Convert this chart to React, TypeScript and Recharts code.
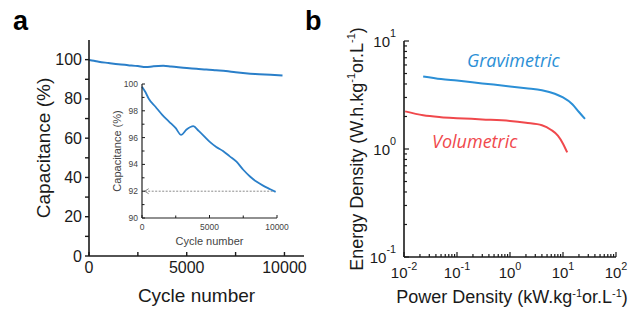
import React from 'react';
import { LineChart, Line, XAxis, YAxis, Label } from 'recharts';

// ---- panel a: cycling stability ----
const cycles = [0, 250, 500, 1000, 1500, 2000, 2500, 2900, 3300, 3800, 4200, 5000, 5500, 6000, 6500, 7000, 7500, 8000, 8500, 9000, 9500, 9900];
const capacitance = [99.8, 99.4, 98.9, 98.3, 97.7, 97.2, 96.7, 96.2, 96.6, 96.85, 96.5, 95.7, 95.3, 95.0, 94.6, 94.2, 93.6, 93.1, 92.7, 92.4, 92.15, 91.95];
const capTicks = [0, 10, 20, 30, 40, 50, 60, 70, 80, 90, 100];
const capLabels = [0, 20, 40, 60, 80, 100];
const cycleTicks = [0, 2500, 5000, 7500, 10000];
const cycleLabels = [0, 5000, 10000];
const insetCapTicks = [90, 91, 92, 93, 94, 95, 96, 97, 98, 99, 100];
const insetCapLabels = [90, 92, 94, 96, 98, 100];
const arrowCycles = [200, 9700];
const arrowLevel = 92;

// ---- panel b: Ragone plot ----
const gravPower = [0.023, 0.05, 0.1, 0.3, 1, 2, 4, 7, 10, 15, 20, 26];
const gravEnergy = [4.7, 4.45, 4.3, 4.05, 3.8, 3.65, 3.5, 3.25, 3.0, 2.6, 2.2, 1.9];
const volPower = [0.0105, 0.023, 0.05, 0.1, 0.3, 1, 2, 4, 6, 8, 10, 12];
const volEnergy = [2.23, 2.05, 1.97, 1.93, 1.88, 1.82, 1.75, 1.66, 1.5, 1.33, 1.12, 0.93];
const powerDecades = [0.01, 0.1, 1, 10];
const energyDecades = [0.1, 1];
const minorSteps = [1, 2, 3, 4, 5, 6, 7, 8, 9];
const powerTicks = [...powerDecades.flatMap((d) => minorSteps.map((m) => +(m * d).toPrecision(3))), 100];
const energyTicks = [...energyDecades.flatMap((d) => minorSteps.map((m) => +(m * d).toPrecision(3))), 10];

const FONT = '"Liberation Sans", Arial, sans-serif';
const BLUE = '#2a7fc9';
const GRAV = '#2b8fd6';
const RED = '#f0484c';
const INK = '#1a1a1a';

const capData = cycles.map((c, i) => ({ c, v: capacitance[i] }));
const arrowData = arrowCycles.map((c) => ({ c, v: arrowLevel }));
const gravData = gravPower.map((p, i) => ({ p, e: gravEnergy[i] }));
const volData = volPower.map((p, i) => ({ p, e: volEnergy[i] }));

const isDecade = (v: number) => Math.abs(Math.log10(v) - Math.round(Math.log10(v))) < 1e-6;

const Pow = ({ v, supSize }: { v: number; supSize: number }) => (
  <>
    <tspan>10</tspan>
    <tspan dy={-supSize * 0.7} fontSize={supSize}>{Math.round(Math.log10(v))}</tspan>
  </>
);

interface TickOpts {
  isMajor: (v: number) => boolean;
  out: boolean;
  len: number;
  minorLen: number;
  fontSize: number;
  gap: number;
  color: string;
  width: number;
  log?: boolean;
}

const leftTick = (o: TickOpts) => (props: any) => {
  const { x, y, payload } = props;
  const v = payload.value;
  const major = o.isMajor(v);
  const dir = o.out ? -1 : 1;
  const l = major ? o.len : o.minorLen;
  return (
    <g>
      <line x1={x} x2={x + dir * l} y1={y} y2={y} stroke={INK} strokeWidth={o.width} />
      {major && (
        <text x={x - o.gap} y={y} textAnchor="end" dominantBaseline="central" fontFamily={FONT} fontSize={o.fontSize} fill={o.color}>
          {o.log ? <Pow v={v} supSize={o.fontSize * 0.72} /> : v}
        </text>
      )}
    </g>
  );
};

const bottomTick = (o: TickOpts) => (props: any) => {
  const { x, y, payload } = props;
  const v = payload.value;
  const major = o.isMajor(v);
  const dir = o.out ? 1 : -1;
  const l = major ? o.len : o.minorLen;
  return (
    <g>
      <line x1={x} x2={x} y1={y} y2={y + dir * l} stroke={INK} strokeWidth={o.width} />
      {major && (
        <text x={x} y={y + o.gap} textAnchor="middle" fontFamily={FONT} fontSize={o.fontSize} fill={o.color}>
          {o.log ? <Pow v={v} supSize={o.fontSize * 0.72} /> : v}
        </text>
      )}
    </g>
  );
};

const ArrowHead = (props: any) => {
  const { cx, cy, index } = props;
  if (index !== 0) return <g key={`a${index}`} />;
  return <path key="ah" d={`M${cx + 4},${cy - 2.5} L${cx},${cy} L${cx + 4},${cy + 2.5}`} fill="none" stroke="#8a8a8a" strokeWidth={1} />;
};

const rotLabel = (text: React.ReactNode, dx: number, fontSize: number, color: string, dy = 0) => (props: any) => {
  const { x, y, height } = props.viewBox;
  const cx = x + dx;
  const cy = y + height / 2 + dy;
  return (
    <text x={cx} y={cy} transform={`rotate(-90 ${cx} ${cy})`} textAnchor="middle" dominantBaseline="central" fontFamily={FONT} fontSize={fontSize} fill={color}>
      {text}
    </text>
  );
};

const botLabel = (text: React.ReactNode, dy: number, fontSize: number, color: string, dx = 0) => (props: any) => {
  const { x, y, width } = props.viewBox;
  return (
    <text x={x + width / 2 + dx} y={y + dy} textAnchor="middle" fontFamily={FONT} fontSize={fontSize} fill={color}>
      {text}
    </text>
  );
};

// unit text "(...kg^-1 or.L^-1)" with raised exponents
const unitText = (head: string) => (
  <>
    <tspan>{head}.kg</tspan>
    <tspan dy={-6} fontSize={11}>-1</tspan>
    <tspan dy={6}>or.L</tspan>
    <tspan dy={-6} fontSize={11}>-1</tspan>
    <tspan dy={6}>)</tspan>
  </>
);

const labelStyle: React.CSSProperties = {
  position: 'absolute',
  fontFamily: '"Open Sans", Lato, sans-serif',
  fontStyle: 'italic',
  fontSize: 18,
  lineHeight: '24px',
  whiteSpace: 'nowrap',
};

export default function App() {
  return (
    <div style={{ position: 'absolute', left: 0, top: 0, width: 629, height: 309, background: '#fff', overflow: 'hidden' }}>
      {/* panel a, main */}
      <div style={{ position: 'absolute', left: 0, top: 0 }}>
        <LineChart width={310} height={309} data={capData} margin={{ top: 40, right: 6, left: 0, bottom: 0 }}>
          <XAxis
            dataKey="c"
            type="number"
            domain={[0, 11000]}
            ticks={cycleTicks}
            interval={0}
            height={53}
            tickSize={0}
            tickMargin={0}
            tickLine={false}
            axisLine={{ stroke: INK, strokeWidth: 1.6 }}
            tick={bottomTick({ isMajor: (v) => cycleLabels.includes(v), out: false, len: 4, minorLen: 4, fontSize: 16, gap: 17, color: INK, width: 1.4 })}
          >
            <Label content={botLabel('Cycle number', 46, 19, INK, 0)} />
          </XAxis>
          <YAxis
            type="number"
            domain={[0, 110]}
            ticks={capTicks}
            interval={0}
            width={89}
            tickSize={0}
            tickMargin={0}
            tickLine={false}
            axisLine={{ stroke: INK, strokeWidth: 1.6 }}
            tick={leftTick({ isMajor: (v) => capLabels.includes(v), out: true, len: 4, minorLen: 4, fontSize: 16, gap: 7, color: INK, width: 1.4 })}
          >
            <Label content={rotLabel('Capacitance (%)', 43, 19, INK)} />
          </YAxis>
          <Line dataKey="v" type="monotone" stroke={BLUE} strokeWidth={2} dot={false} isAnimationActive={false} />
        </LineChart>
      </div>

      {/* panel a, inset */}
      <div style={{ position: 'absolute', left: 100, top: 74 }}>
        <LineChart width={200} height={180} data={capData} margin={{ top: 10, right: 23, left: 0, bottom: 0 }}>
          <XAxis
            dataKey="c"
            type="number"
            domain={[0, 10000]}
            ticks={cycleTicks}
            interval={0}
            height={36}
            tickSize={0}
            tickMargin={0}
            tickLine={false}
            axisLine={{ stroke: '#222', strokeWidth: 1.2 }}
            tick={bottomTick({ isMajor: (v) => cycleLabels.includes(v), out: false, len: 3, minorLen: 2.5, fontSize: 8.5, gap: 12, color: '#444', width: 1 })}
          >
            <Label content={botLabel('Cycle number', 27, 11, '#444', 0)} />
          </XAxis>
          <YAxis
            type="number"
            domain={[90, 100]}
            ticks={insetCapTicks}
            interval={0}
            width={42}
            tickSize={0}
            tickMargin={0}
            tickLine={false}
            axisLine={{ stroke: '#222', strokeWidth: 1.2 }}
            tick={leftTick({ isMajor: (v) => insetCapLabels.includes(v), out: false, len: 3, minorLen: 2.5, fontSize: 8.5, gap: 4, color: '#444', width: 1 })}
          >
            <Label content={rotLabel('Capacitance (%)', 17, 11, '#444')} />
          </YAxis>
          <Line data={arrowData} dataKey="v" stroke="#8a8a8a" strokeWidth={1} strokeDasharray="2 1.5" dot={ArrowHead} isAnimationActive={false} />
          <Line dataKey="v" type="monotone" stroke={BLUE} strokeWidth={1.8} dot={false} isAnimationActive={false} />
        </LineChart>
      </div>

      {/* panel b */}
      <div style={{ position: 'absolute', left: 310, top: 0 }}>
        <LineChart width={319} height={309} margin={{ top: 41, right: 13, left: 0, bottom: 0 }}>
          <XAxis
            dataKey="p"
            type="number"
            scale="log"
            domain={[0.01, 100]}
            allowDataOverflow
            ticks={powerTicks}
            interval={0}
            height={52}
            tickSize={0}
            tickMargin={0}
            tickLine={false}
            axisLine={{ stroke: INK, strokeWidth: 1.6 }}
            tick={bottomTick({ isMajor: isDecade, out: false, len: 5, minorLen: 3, fontSize: 15, gap: 21, color: INK, width: 1.2, log: true })}
          >
            <Label content={botLabel(unitText('Power Density (kW'), 46, 18, INK, 2)} />
          </XAxis>
          <YAxis
            type="number"
            scale="log"
            domain={[0.1, 10]}
            allowDataOverflow
            ticks={energyTicks}
            interval={0}
            width={94}
            tickSize={0}
            tickMargin={0}
            tickLine={false}
            axisLine={{ stroke: INK, strokeWidth: 1.6 }}
            tick={leftTick({ isMajor: isDecade, out: false, len: 5, minorLen: 3, fontSize: 15, gap: 8, color: INK, width: 1.2, log: true })}
          >
            <Label content={rotLabel(unitText('Energy Density (W.h'), 47, 18, INK, 0)} />
          </YAxis>
          <Line data={gravData} dataKey="e" type="monotone" stroke={GRAV} strokeWidth={2} dot={false} isAnimationActive={false} />
          <Line data={volData} dataKey="e" type="monotone" stroke={RED} strokeWidth={2} dot={false} isAnimationActive={false} />
        </LineChart>
      </div>

      <div style={{ ...labelStyle, left: 467, top: 48, color: GRAV }}>Gravimetric</div>
      <div style={{ ...labelStyle, left: 432, top: 129, color: RED }}>Volumetric</div>
      <div style={{ position: 'absolute', left: 13, top: 4, fontFamily: FONT, fontWeight: 'bold', fontSize: 27, color: '#000', lineHeight: '34px' }}>a</div>
      <div style={{ position: 'absolute', left: 305, top: 4, fontFamily: FONT, fontWeight: 'bold', fontSize: 27, color: '#000', lineHeight: '34px' }}>b</div>
    </div>
  );
}
